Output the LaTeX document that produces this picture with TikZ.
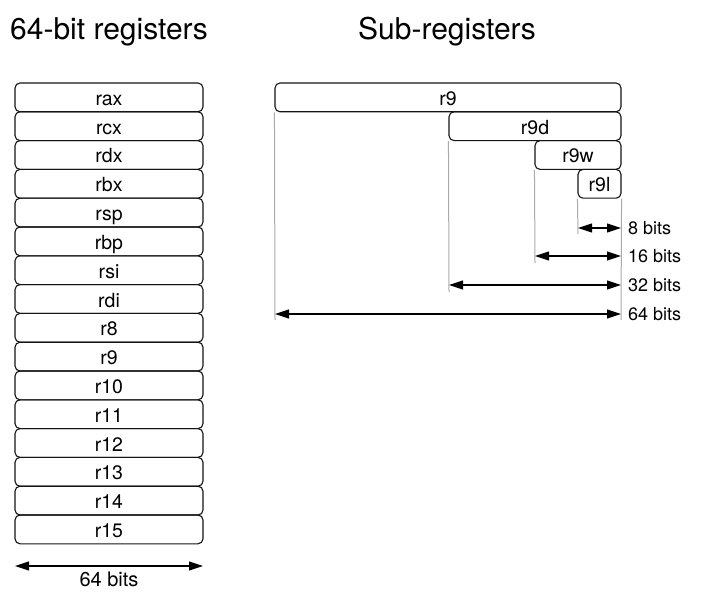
\documentclass[tikz,border=0pt]{standalone}
\usepackage{fontspec}
\setmainfont{TeX Gyre Heros}
\usetikzlibrary{arrows.meta}
\definecolor{regline}{RGB}{20,20,20}
\definecolor{guidegray}{RGB}{170,170,170}

\begin{document}
\begin{tikzpicture}[x=1pt,y=-1pt,
  reg/.style={draw=regline,line width=1.1pt,rounded corners=5pt,inner sep=0pt,
    minimum height=28.8pt,text height=18pt,text depth=2pt,
    font=\fontsize{19.5}{19.5}\selectfont},
  guide/.style={draw=guidegray,line width=1pt},
  span/.style={line width=1.1pt,{Triangle[length=14pt,width=9pt]}-{Triangle[length=14pt,width=9pt]}},
  title/.style={anchor=base,font=\fontsize{30}{30}\selectfont},
  bits/.style={anchor=base west,inner sep=0pt,font=\fontsize{18}{18}\selectfont}]
  \useasboundingbox (0,0) rectangle (709,604);
  % headings
  \node[title] (hl) at (109,39.5) {64-bit registers};
  \node[title] (hr) at (447,39.5) {Sub-registers};
  % left column
  \node[reg,minimum width=188pt] (rax) at (109,97.4) {rax};
  \node[reg,minimum width=188pt] (rcx) at (109,126.2) {rcx};
  \node[reg,minimum width=188pt] (rdx) at (109,155.0) {rdx};
  \node[reg,minimum width=188pt] (rbx) at (109,183.8) {rbx};
  \node[reg,minimum width=188pt] (rsp) at (109,212.6) {rsp};
  \node[reg,minimum width=188pt] (rbp) at (109,241.4) {rbp};
  \node[reg,minimum width=188pt] (rsi) at (109,270.2) {rsi};
  \node[reg,minimum width=188pt] (rdi) at (109,299.0) {rdi};
  \node[reg,minimum width=188pt] (r8) at (109,327.8) {r8};
  \node[reg,minimum width=188pt] (r9) at (109,356.6) {r9};
  \node[reg,minimum width=188pt] (r10) at (109,385.4) {r10};
  \node[reg,minimum width=188pt] (r11) at (109,414.2) {r11};
  \node[reg,minimum width=188pt] (r12) at (109,443.0) {r12};
  \node[reg,minimum width=188pt] (r13) at (109,471.8) {r13};
  \node[reg,minimum width=188pt] (r14) at (109,500.6) {r14};
  \node[reg,minimum width=188pt] (r15) at (109,529.4) {r15};
  \coordinate (wl) at (15,566);
  \coordinate (wr) at (203,566);
  \draw[span] (wl) -- (wr);
  \node[anchor=base,inner sep=0pt,font=\fontsize{20}{20}\selectfont] (wlab) at (109,586) {64 bits};
  % sub-registers
  \node[reg,minimum width=346pt] (q) at (448,97.4) {r9};
  \node[reg,minimum width=172pt] (d) at (535,126.2) {r9d};
  \node[reg,minimum width=86pt] (w) at (578,155.0) {r9w};
  \node[reg,minimum width=43pt] (b) at (599.5,183.8) {r9l};
  \coordinate (qe) at (275,320);
  \coordinate (de) at (449,292);
  \coordinate (we) at (535,263);
  \coordinate (be) at (578,234);
  \coordinate (re) at (621,320);
  \draw[guide] (q.south west) -- (qe);
  \draw[guide] (d.south west) -- (de);
  \draw[guide] (w.south west) -- (we);
  \draw[guide] (b.south west) -- (be);
  \draw[guide] (b.south east) -- (re);
  \coordinate (a8) at (578,228);  \coordinate (e8) at (621,228);
  \coordinate (a16) at (535,256); \coordinate (e16) at (621,256);
  \coordinate (a32) at (449,285); \coordinate (e32) at (621,285);
  \coordinate (a64) at (275,314); \coordinate (e64) at (621,314);
  \draw[span] (a8) -- (e8);
  \draw[span] (a16) -- (e16);
  \draw[span] (a32) -- (e32);
  \draw[span] (a64) -- (e64);
  \node[bits] (l8) at (628,234.5) {8 bits};
  \node[bits] (l16) at (628,262.5) {16 bits};
  \node[bits] (l32) at (628,291.5) {32 bits};
  \node[bits] (l64) at (628,320.5) {64 bits};
\end{tikzpicture}
\end{document}
